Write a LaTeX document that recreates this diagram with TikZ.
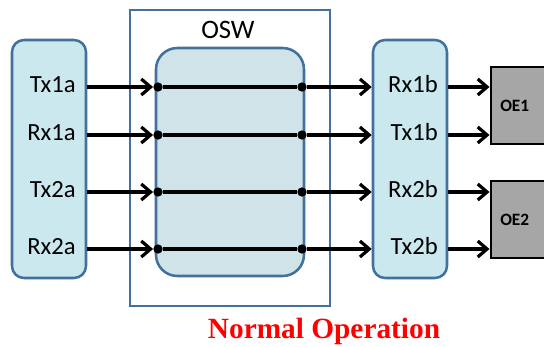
\documentclass[tikz,border=0pt]{standalone}
\usepackage{fontspec}
\setmainfont{Carlito}
\newfontfamily\timesfont{Liberation Serif}
\usetikzlibrary{arrows.meta,positioning}
\definecolor{panelfill}{HTML}{CCE8EF}
\definecolor{oswfill}{HTML}{D0E3E9}
\definecolor{edgeblue}{HTML}{41719C}
\definecolor{oegrey}{HTML}{A6A6A6}
\begin{document}
\begin{tikzpicture}[x=0.75pt,y=-0.75pt,
    panel/.style={draw=edgeblue, line width=1.9pt, fill=panelfill, rounded corners=9pt,
      minimum width=55.5pt, minimum height=178.5pt},
    port/.style={anchor=base east, inner sep=0pt, font=\fontsize{18.5}{22}\selectfont},
    oebox/.style={draw=black, line width=2.2pt, fill=oegrey, minimum width=75pt, minimum height=57.75pt},
    oelabel/.style={anchor=west, inner sep=0pt, font=\fontsize{13}{15}\selectfont\bfseries},
    dot/.style={circle, fill=black, inner sep=0pt, minimum size=7pt},
    arr/.style={line width=2.4pt, -{Straight Barb[length=7pt,width=12pt]}},
    link/.style={line width=2.4pt}]
  \useasboundingbox (0,0) rectangle (544,347);
  \clip (0,0) rectangle (544,347);
  % switch and the two port panels
  \node[draw=edgeblue, line width=1.9pt, fill=white, minimum width=150pt, minimum height=222pt] (osw) at (230,158) {};
  \node[anchor=base, inner sep=0pt, font=\fontsize{20}{24}\selectfont] (oswname) at (228,38) {OSW};
  \node[panel, fill=oswfill, rounded corners=16pt, minimum width=111pt, minimum height=171pt] (core) at (230,162) {};
  \node[panel] (hosta) at (49,159) {};
  \node[panel] (hostb) at (410,159) {};
  \node[oebox] (oe1) at (541,105.5) {};
  \node[oebox] (oe2) at (541,219.5) {};
  \node[oelabel] (oe1name) at (500,106) {OE1};
  \node[oelabel] (oe2name) at (500,220) {OE2};
  % ports
  \node[port] (tx1a) at (76,92) {Tx1a};
  \node[port] (rx1a) at (76,140) {Rx1a};
  \node[port] (tx2a) at (76,197) {Tx2a};
  \node[port] (rx2a) at (76,254) {Rx2a};
  \node[port] (rx1b) at (438,92) {Rx1b};
  \node[port] (tx1b) at (438,140) {Tx1b};
  \node[port] (rx2b) at (438,197) {Rx2b};
  \node[port] (tx2b) at (438,254) {Tx2b};
  \node[dot] (in1) at (158,87) {};
  \node[dot] (in2) at (158,135) {};
  \node[dot] (in3) at (158,192) {};
  \node[dot] (in4) at (158,249) {};
  \node[dot] (out1) at (302,87) {};
  \node[dot] (out2) at (302,135) {};
  \node[dot] (out3) at (302,192) {};
  \node[dot] (out4) at (302,249) {};
  \begin{scope}
    \draw[arr] (hosta.east |- in1) to (in1);
    \draw[arr] (hosta.east |- in2) to (in2);
    \draw[arr] (hosta.east |- in3) to (in3);
    \draw[arr] (hosta.east |- in4) to (in4);
    \draw[link] (in1) to (out1);
    \draw[link] (in2) to (out2);
    \draw[link] (in3) to (out3);
    \draw[link] (in4) to (out4);
    \draw[arr] (out1) to (hostb.west |- out1);
    \draw[arr] (out2) to (hostb.west |- out2);
    \draw[arr] (out3) to (hostb.west |- out3);
    \draw[arr] (out4) to (hostb.west |- out4);
    \draw[arr] (hostb.east |- out1) to (oe1.west |- out1);
    \draw[arr] (hostb.east |- out2) to (oe1.west |- out2);
    \draw[arr] (hostb.east |- out3) to (oe2.west |- out3);
    \draw[arr] (hostb.east |- out4) to (oe2.west |- out4);
  \end{scope}
  \node[anchor=base, inner sep=0pt, text=red, font=\timesfont\bfseries\fontsize{22}{26}\selectfont] (mode) at (324,338) {Normal Operation};
\end{tikzpicture}
\end{document}
